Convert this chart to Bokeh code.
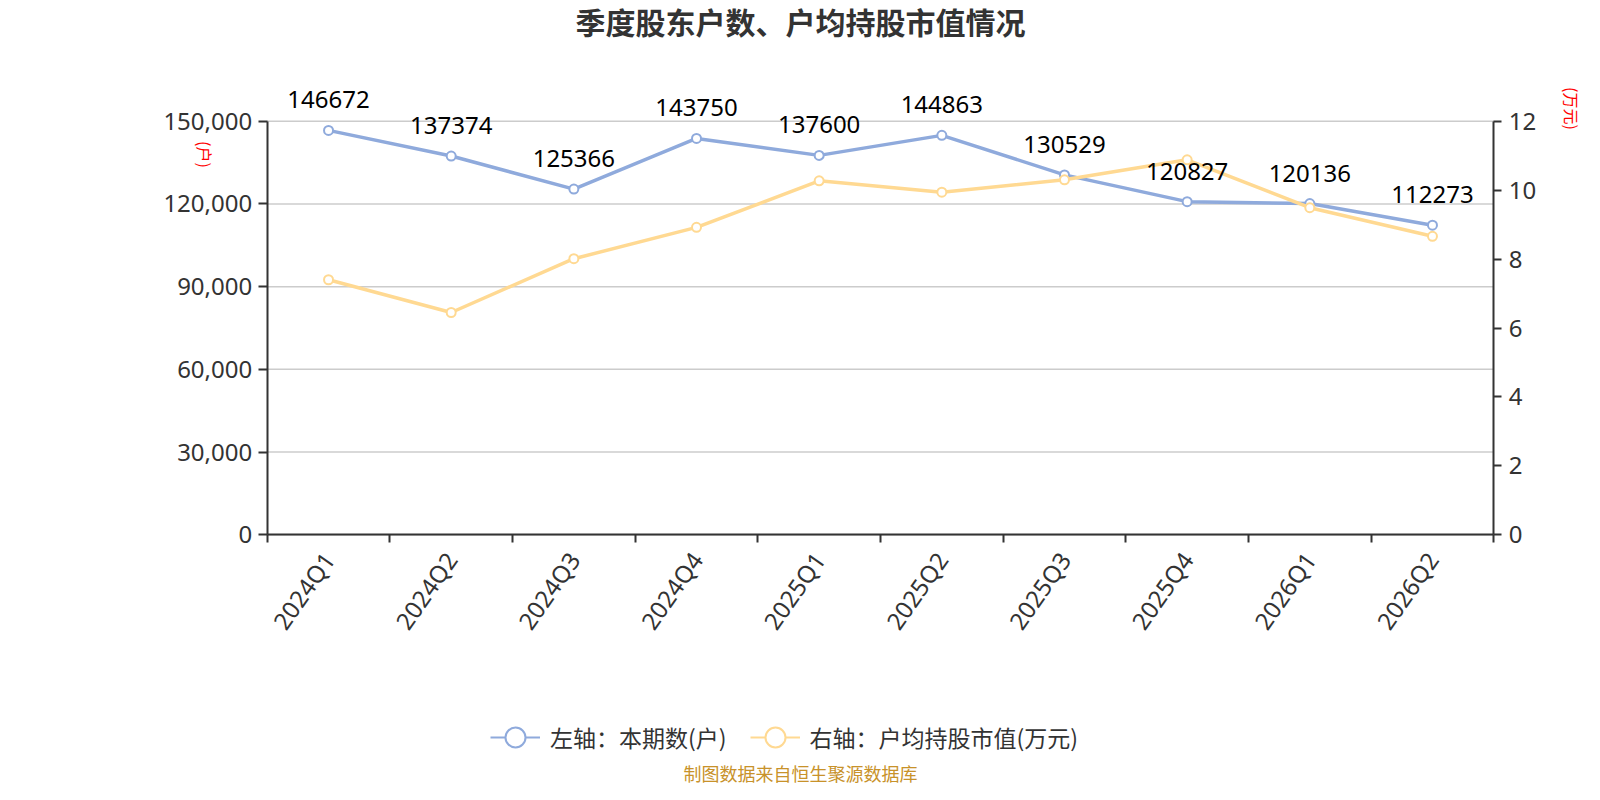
import math
from bokeh.plotting import figure
from bokeh.core.properties import value
from bokeh.models import (ColumnDataSource, Range1d, LinearAxis, FixedTicker,
                          NumeralTickFormatter, LabelSet, Label, Legend, LegendItem)
from bokeh.embed import file_html
from bokeh.resources import INLINE

quarters = ["2024Q1", "2024Q2", "2024Q3", "2024Q4", "2025Q1",
            "2025Q2", "2025Q3", "2025Q4", "2026Q1", "2026Q2"]
holders = [146672, 137374, 125366, 143750, 137600, 144863, 130529, 120827, 120136, 112273]
avg_value = [7.40, 6.45, 8.01, 8.92, 10.27, 9.94, 10.30, 10.88, 9.49, 8.66]
left_ticks = [0, 30000, 60000, 90000, 120000, 150000]
right_ticks = [0, 2, 4, 6, 8, 10, 12]

title_text = "季度股东户数、户均持股市值情况"
legend_left = "左轴：本期数(户)"
legend_right = "右轴：户均持股市值(万元)"
footer_text = "制图数据来自恒生聚源数据库"
left_unit = "(户)"
right_unit = "(万元)"

BLUE = "#8FAADC"
YELLOW = "#FFD992"
AXIS = "#333333"
NUM_FONT = "Noto Sans"
CJK_FONT = "Noto Sans CJK SC"

# canvas / plot-area geometry (pixels)
W, H = 1584, 784
PL, PR = 266.7, 1493.3      # plot area left/right
PT, PB = 120.7, 534.3       # plot area top/bottom (from top)

n = len(quarters)
ymax_l = left_ticks[-1]
ymax_r = right_ticks[-1]
pxu = (PR - PL) / n
x_start = -PL / pxu
x_end = n + (W - PR) / pxu
hpx = PB - PT
y_start = -(H - PB) / hpx * ymax_l
y_end = ymax_l + PT / hpx * ymax_l
r_start = -(H - PB) / hpx * ymax_r
r_end = ymax_r + PT / hpx * ymax_r

xs = [i + 0.5 for i in range(n)]
src = ColumnDataSource(dict(x=xs, q=quarters, h=holders, v=avg_value,
                            lab=[str(h) for h in holders]))

p = figure(width=W, height=H, output_backend="svg", toolbar_location=None,
           x_range=Range1d(x_start, x_end), y_range=Range1d(y_start, y_end),
           x_axis_type=None, y_axis_type=None, title=None,
           min_border=0)
p.outline_line_color = None
p.background_fill_color = "white"
p.border_fill_color = "white"
p.extra_y_ranges = {"right": Range1d(r_start, r_end)}

# grid lines
p.segment(x0=[0] * len(left_ticks), x1=[n] * len(left_ticks), y0=left_ticks, y1=left_ticks,
          line_color="#cccccc", line_width=1.5)

def style_axis(ax):
    ax.axis_line_color = AXIS
    ax.axis_line_width = 2
    ax.major_tick_line_color = AXIS
    ax.major_tick_line_width = 2
    ax.minor_tick_line_color = None
    ax.major_tick_in = 0
    ax.major_label_text_font = NUM_FONT
    ax.major_label_text_font_size = "24px"
    ax.major_label_text_color = "#333333"

# x axis
xa = LinearAxis(fixed_location=0, bounds=(0, n),
                ticker=FixedTicker(ticks=xs, minor_ticks=list(range(n + 1))))
style_axis(xa)
xa.major_label_overrides = {x: q for x, q in zip(xs, quarters)}
xa.major_tick_out = 0
xa.major_tick_line_color = None
xa.minor_tick_in = 0
xa.minor_tick_out = 8
xa.minor_tick_line_color = AXIS
xa.minor_tick_line_width = 2
xa.major_label_orientation = math.radians(55)
xa.major_label_standoff = 12
p.add_layout(xa, "below")

# left axis
ya = LinearAxis(fixed_location=0, bounds=(0, ymax_l),
                ticker=FixedTicker(ticks=left_ticks),
                formatter=NumeralTickFormatter(format="0,0"))
style_axis(ya)
ya.major_tick_out = 9
ya.major_label_standoff = 6
p.add_layout(ya, "left")

# right axis
ra = LinearAxis(y_range_name="right", fixed_location=n, bounds=(0, ymax_r),
                ticker=FixedTicker(ticks=right_ticks))
style_axis(ra)
ra.major_tick_out = 8
ra.major_label_standoff = 7
p.add_layout(ra, "right")

# series
p.line("x", "h", source=src, line_color=BLUE, line_width=3.5)
p.scatter("x", "h", source=src, size=9, fill_color="white", line_color=BLUE, line_width=2)
p.line("x", "v", source=src, y_range_name="right", line_color=YELLOW, line_width=3.5)
p.scatter("x", "v", source=src, y_range_name="right", size=9, fill_color="white",
          line_color=YELLOW, line_width=2)

labels = LabelSet(x="x", y="h", text="lab", source=src, y_offset=22,
                  text_align="center", text_baseline="alphabetic",
                  text_font=value(NUM_FONT), text_font_size=value("24px"),
                  text_color=value("black"))
p.add_layout(labels)

# legend proxies (not visible on the plot)
nan = float("nan")
empty = ColumnDataSource(dict(x=[nan], y=[nan]))
lb1 = p.line("x", "y", source=empty, line_color=BLUE, line_width=2)
sb1 = p.scatter("x", "y", source=empty, size=20, fill_color="white", line_color=BLUE, line_width=2)
lb2 = p.line("x", "y", source=empty, line_color=YELLOW, line_width=2)
sb2 = p.scatter("x", "y", source=empty, size=20, fill_color="white", line_color=YELLOW, line_width=2)
legend = Legend(items=[LegendItem(label=legend_left, renderers=[lb1, sb1]),
                       LegendItem(label=legend_right, renderers=[lb2, sb2])],
                orientation="horizontal", location=(490, 22),
                glyph_width=50, glyph_height=50, label_standoff=10, spacing=23,
                padding=0, margin=0, border_line_color=None, background_fill_alpha=0,
                label_text_font=CJK_FONT, label_text_font_size="23px",
                label_text_color="#333333")
p.add_layout(legend)

# texts
p.add_layout(Label(x=800, y=764, x_units="screen", y_units="screen", text=title_text,
                   text_align="center", text_baseline="middle", text_font=CJK_FONT,
                   text_font_size="30px", text_font_style="bold", text_color="#333333"))
p.add_layout(Label(x=800, y=12, x_units="screen", y_units="screen", text=footer_text,
                   text_align="center", text_baseline="middle", text_font=CJK_FONT,
                   text_font_size="18px", text_color="#C8922A"))
p.add_layout(Label(x=204, y=630, x_units="screen", y_units="screen", text=left_unit,
                   angle=-math.pi / 2, text_align="center", text_baseline="middle",
                   text_font=CJK_FONT, text_font_size="16px", text_color="red"))
p.add_layout(Label(x=1571, y=676, x_units="screen", y_units="screen", text=right_unit,
                   angle=-math.pi / 2, text_align="center", text_baseline="middle",
                   text_font=CJK_FONT, text_font_size="16px", text_color="red"))

open("out.html", "w").write(file_html(p, INLINE))
